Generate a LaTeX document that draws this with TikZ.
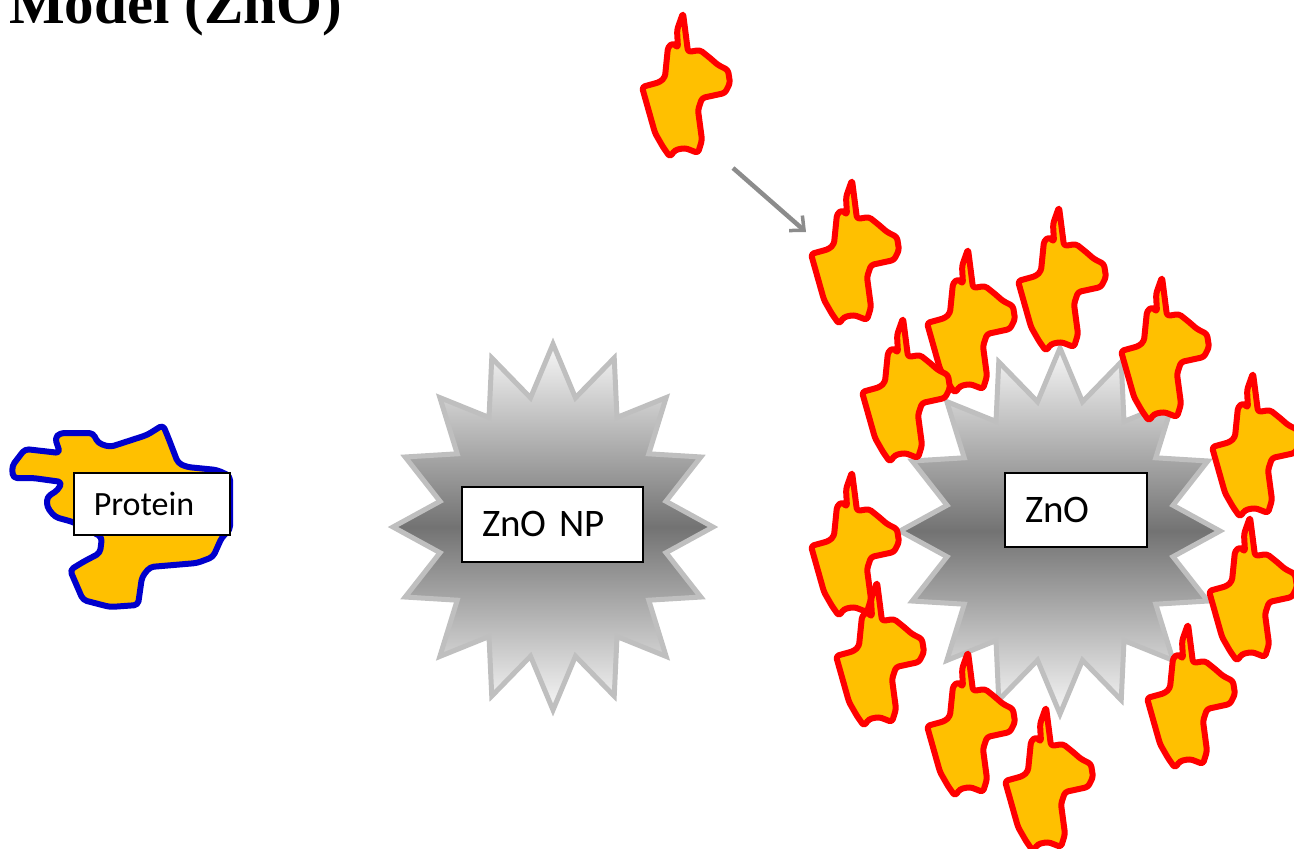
\documentclass[tikz,border=0pt]{standalone}
\usepackage{fontspec}
\setmainfont{Carlito}
\newfontfamily\titlefont{Liberation Serif}
\usetikzlibrary{arrows.meta}

\definecolor{flamefill}{HTML}{FFC000}
\definecolor{flameline}{HTML}{FF0000}
\definecolor{protline}{HTML}{0000CC}
\definecolor{starline}{HTML}{BFBFBF}

\tikzset{
  flame/.style={draw=flameline, fill=flamefill, line width=6pt, line join=round, rounded corners=3pt},
  protein/.style={draw=protline, fill=flamefill, line width=6pt, line join=round, rounded corners=4pt},
  particle/.style={draw=starline, line width=5pt, top color=black!3, bottom color=black!3, middle color=black!55},
  tag/.style={draw=black, fill=white, line width=2pt, align=left, inner xsep=20pt, inner ysep=0pt, anchor=west},
  shot/.style={draw=black!45, line width=4.5pt, -{Straight Barb[length=11pt,width=20pt,line width=3.5pt]}}
}

\begin{document}
\begin{tikzpicture}[x=1pt,y=-1pt]
\useasboundingbox (0,0) rectangle (1294,849);
\clip (0,0) rectangle (1294,849);
\pgfmathsetmacro{\rx}{160}
\pgfmathsetmacro{\ry}{183}
\pgfmathsetmacro{\dent}{0.28}

\node[anchor=base west, inner sep=0pt] (title) at (9,23) {\titlefont\bfseries\fontsize{59}{62}\selectfont Model (ZnO)};

\draw[particle] plot[samples at={0,...,31}, variable=\k] ({553+\rx*(1-\dent*mod(\k,2))*sin(\k*11.25)}, {527-\ry*(1-\dent*mod(\k,2))*cos(\k*11.25)}) -- cycle;
\draw[particle] plot[samples at={0,...,31}, variable=\k] ({1060+\rx*(1-\dent*mod(\k,2))*sin(\k*11.25)}, {531-\ry*(1-\dent*mod(\k,2))*cos(\k*11.25)}) -- cycle;

\draw[protein] (25,449) -- (60,453) -- (55,438) -- (60,433) -- (93,433) -- (98,443) -- (110,447) -- (147,435) -- (163,425) -- (168,437) -- (178,463) -- (187,467) -- (217,470) -- (230,476) -- (230,530) -- (222,537) -- (213,557) -- (197,563) -- (150,567) -- (142,577) -- (138,605) -- (110,607) -- (83,600) -- (70,570) -- (83,562) -- (100,553) -- (102,537) -- (73,522) -- (55,517) -- (47,507) -- (47,497) -- (58,490) -- (62,482) -- (33,478) -- (13,478) -- (12,466) -- cycle;

\foreach \fx/\fy in {686/85, 855/252, 1062/279, 971/321, 1165/349, 906/390, 1256/445, 855/544, 1253/589, 880/654, 1191/696, 971/724, 1049/779}
  \draw[flame, shift={(\fx,\fy)}] (-3,-72) -- (2,-33) -- (14,-35) -- (24,-27) -- (32,-20) -- (42,-15) -- (44,-2) -- (39,8) -- (16,13) -- (12,25) -- (16,55) -- (12,68) -- (-1,63) -- (-11,65) -- (-16,72) -- (-23,62) -- (-31,48) -- (-44,2) -- (-26,-3) -- (-21,-8) -- (-18,-38) -- (-13,-42) -- (-8,-37) -- (-9,-55) -- cycle;

\coordinate (shot tail) at (733,168);
\coordinate (shot head) at (806,232);
\draw[shot] (shot tail) -- (shot head);

\node[tag, line width=1.5pt, text width=116pt, minimum height=62pt, font=\fontsize{34}{40}\selectfont] (protein) at (73,504) {Protein};
\node[tag, text width=141pt, minimum height=75pt, font=\fontsize{39}{46}\selectfont] (np) at (461,524) {ZnO NP};
\node[tag, text width=102pt, minimum height=74pt, font=\fontsize{39}{46}\selectfont] (zno) at (1004,510) {ZnO};
\end{tikzpicture}
\end{document}
